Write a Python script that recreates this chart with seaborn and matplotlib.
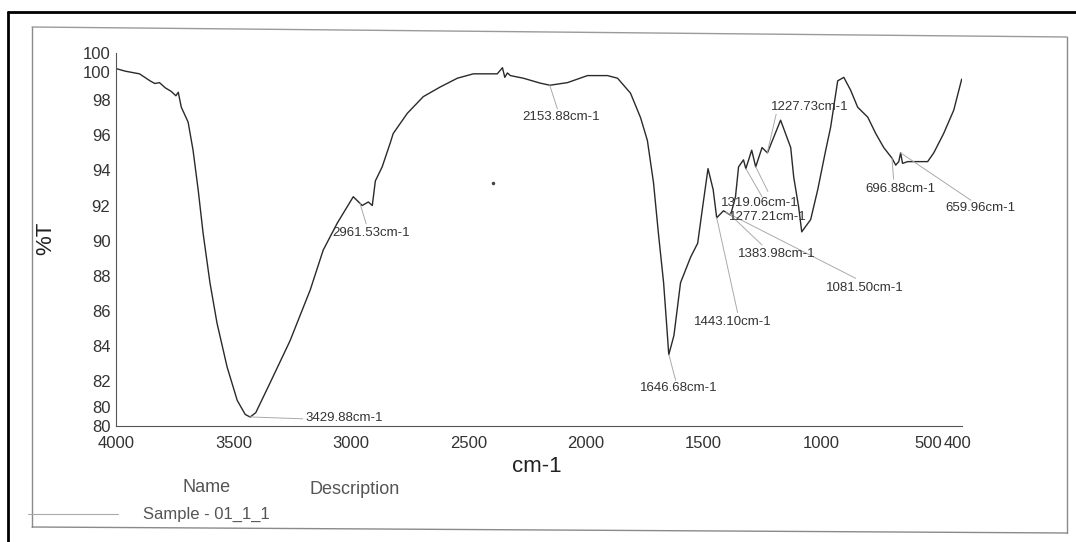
import numpy as np
import pandas as pd
import seaborn as sns
import matplotlib.pyplot as plt
import matplotlib.transforms as mtransforms
from matplotlib.lines import Line2D

# FTIR spectrum
wavenumber = [4000, 3960, 3900, 3855, 3835, 3815, 3790, 3765, 3745, 3735, 3722,
              3693, 3672, 3650, 3629, 3600, 3570, 3527, 3484, 3450, 3429, 3405,
              3344, 3259, 3173, 3118, 3058, 2990, 2952, 2926, 2909, 2896, 2867,
              2833, 2820, 2760, 2692, 2620, 2547, 2479, 2377, 2355, 2345, 2334,
              2321, 2266, 2194, 2153, 2078, 1993, 1908, 1865, 1810, 1767, 1738,
              1712, 1691, 1669, 1656, 1647, 1625, 1597, 1554, 1524, 1503, 1480,
              1458, 1443, 1414, 1384, 1363, 1350, 1329, 1319, 1294, 1277, 1250,
              1227, 1171, 1128, 1115, 1094, 1081, 1043, 1013, 979, 958, 928, 902,
              873, 843, 800, 766, 732, 697, 681, 668, 660, 652, 630, 545, 519,
              477, 434, 400]
transmittance = [99.8, 99.65, 99.5, 99.1, 98.95, 99.0, 98.7, 98.5, 98.25, 98.45, 97.6,
                 96.75, 95.15, 92.87, 90.4, 87.6, 85.3, 82.8, 80.9, 80.1, 79.95, 80.2,
                 81.9, 84.3, 87.2, 89.46, 91.0, 92.5, 92.0, 92.2, 92.0, 93.4, 94.2,
                 95.55, 96.1, 97.25, 98.2, 98.75, 99.25, 99.5, 99.5, 99.85, 99.3, 99.55,
                 99.4, 99.25, 98.97, 98.85, 99.0, 99.4, 99.4, 99.25, 98.4, 97.0, 95.7,
                 93.3, 90.4, 87.6, 85.2, 83.5, 84.6, 87.6, 89.06, 89.85, 91.9, 94.1,
                 92.9, 91.3, 91.7, 91.45, 92.5, 94.2, 94.6, 94.1, 95.15, 94.2, 95.3,
                 95.0, 96.86, 95.3, 93.6, 91.9, 90.5, 91.2, 92.9, 95.15, 96.46, 99.1, 99.3,
                 98.57, 97.6, 97.03, 96.1, 95.3, 94.7, 94.3, 94.5, 95.0, 94.4, 94.5, 94.5, 95.0,
                 96.1, 97.43, 99.2]

# peak labels, where their leader lines start, and where the text sits
peak_labels = ['3429.88cm-1', '2961.53cm-1', '2153.88cm-1', '1646.68cm-1', '1443.10cm-1',
               '1383.98cm-1', '1319.06cm-1', '1277.21cm-1', '1227.73cm-1', '1081.50cm-1',
               '696.88cm-1', '659.96cm-1']
peak_pos = [3429.88, 2961.53, 2153.88, 1646.68, 1443.10, 1383.98, 1319.06, 1277.21,
            1227.73, 1405.0, 696.88, 659.96]
label_x = [3195, 2913, 2104, 1605, 1375, 1188, 1427, 1392, 1213, 813, 809, 468]
label_y = [79.9, 90.45, 97.05, 81.6, 85.35, 89.25, 92.15, 91.35, 97.6, 87.3, 92.95, 91.85]
leader_x = [3205, 2935, 2121, 1618, 1354, 1250, 1250, 1225, 1190, 851, 690, 361]
leader_y = [79.85, 90.95, 97.5, 82.05, 85.9, 89.75, 92.5, 92.8, 97.2, 87.85, 93.5, 92.3]
left_aligned = ['3429.88cm-1', '1319.06cm-1', '1277.21cm-1', '1227.73cm-1',
                '696.88cm-1', '659.96cm-1']

ytick_pos = [79.44, 80.52, 82, 84, 86, 88, 90, 92, 94, 96, 98, 99.6, 100.68]
ytick_lab = ['80', '80', '82', '84', '86', '88', '90', '92', '94', '96', '98', '100', '100']
xtick_pos = [4000, 3500, 3000, 2500, 2000, 1500, 1000, 500, 400]

df = pd.DataFrame({'cm-1': wavenumber, '%T': transmittance})

sns.set_theme(style='white')
plt.rcParams['font.family'] = ['Liberation Sans', 'DejaVu Sans']

fig = plt.figure(figsize=(10.76, 5.42), dpi=100)
ax = fig.add_axes([0.1078, 0.214, 0.786, 0.688])

sns.lineplot(data=df, x='cm-1', y='%T', ax=ax, color='#2a2a2a', linewidth=1.0,
             estimator=None, sort=True)

# stray speck from the scan
ax.plot([2394], [93.3], marker='.', color='#444444', markersize=3)

for lab, px, tx, ty, lx, ly in zip(peak_labels, peak_pos, label_x, label_y, leader_x, leader_y):
    py = np.interp(px, wavenumber[::-1], transmittance[::-1])
    ax.plot([px, lx], [py, ly], color='#aaaaaa', linewidth=0.7, clip_on=False)
    ha = 'left' if lab in left_aligned else 'center'
    ax.text(tx, ty, lab, fontsize=9.5, color='#333333', ha=ha, va='center', clip_on=False)

ax.set_xlim(4000, 400)
ax.set_ylim(79.44, 100.68)
ax.set_xticks(xtick_pos)
ax.set_xticklabels([str(v) for v in xtick_pos])
ax.set_yticks(ytick_pos)
ax.set_yticklabels(ytick_lab)
ax.set_xlabel('')
ax.set_ylabel('')
sns.despine(ax=ax)
for s in ['left', 'bottom']:
    ax.spines[s].set_color('#555555')
    ax.spines[s].set_linewidth(0.8)
ax.tick_params(axis='both', labelsize=12, colors='#333333', length=3, width=0.6)
ax.tick_params(axis='x', pad=4)
ax.tick_params(axis='y', pad=1)
ax.patch.set_alpha(0)

# the 500 and 400 labels sit side by side as "500400"
xlabels = ax.get_xticklabels()
xlabels[-2].set_transform(xlabels[-2].get_transform() +
                          mtransforms.ScaledTranslation(-10 / 100, 0, fig.dpi_scale_trans))
xlabels[-1].set_transform(xlabels[-1].get_transform() +
                          mtransforms.ScaledTranslation(-4 / 100, 0, fig.dpi_scale_trans))

W, H = 1076.0, 542.0
def fx(p):
    return p / W
def fy(p):
    return 1 - p / H

fig.text(fx(46), fy(238), '%T', rotation=90, fontsize=16, color='#222222', ha='center', va='center')
fig.text(fx(537), fy(467), 'cm-1', fontsize=16, color='#222222', ha='center', va='center')
fig.text(fx(207), fy(488), 'Name', fontsize=13, color='#555555', ha='center', va='center')
fig.text(fx(355), fy(489), 'Description', fontsize=13, color='#555555', ha='center', va='center')
fig.text(fx(206), fy(514), 'Sample - 01_1_1', fontsize=12, color='#555555', ha='center', va='center')

# page frame lines from the scan
frame = [((8, 8), (12, 542), 'black', 2.0),
         ((8, 1076), (12, 12), 'black', 2.0),
         ((32, 32), (27, 527), '#8a8a8a', 1.0),
         ((32, 1067), (27, 37), '#9a9a9a', 1.0),
         ((1067, 1067), (37, 533), '#8a8a8a', 1.0),
         ((32, 1067), (527, 533), '#8a8a8a', 1.0),
         ((28, 118), (514, 514), '#aaaaaa', 0.8)]
for xs, ys, c, lw in frame:
    fig.add_artist(Line2D([fx(v) for v in xs], [fy(v) for v in ys], color=c, linewidth=lw))

plt.savefig('out.png', dpi=100)
